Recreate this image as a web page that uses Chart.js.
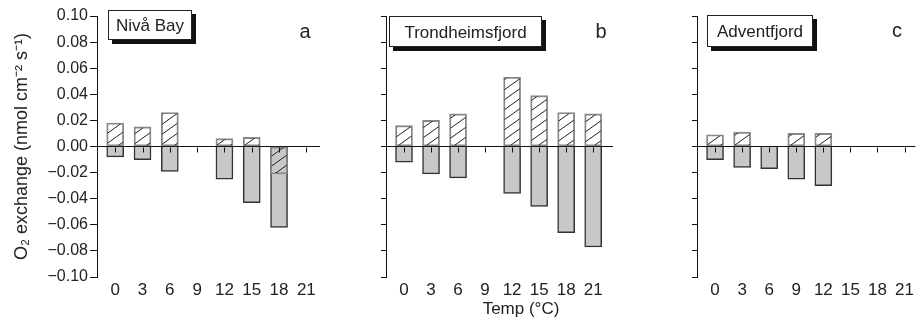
<!DOCTYPE html>
<html>
<head>
<meta charset="utf-8">
<script src="https://cdn.jsdelivr.net/npm/chart.js@4"></script>
<style>
  html, body { margin: 0; padding: 0; background: #fff; }
  #wrap { position: relative; width: 917px; height: 321px; overflow: hidden; }
  canvas { position: absolute; top: 0; }
</style>
</head>
<body>
<div id="wrap">
  <canvas id="chart-a" width="322" height="321" style="left:0px"></canvas>
  <canvas id="chart-b" width="294" height="321" style="left:322px"></canvas>
  <canvas id="chart-c" width="301" height="321" style="left:616px"></canvas>
</div>
<script>
// temperatures (°C) on the x axis
var temps = [0, 3, 6, 9, 12, 15, 18, 21];

// hatched bars = production, grey bars = respiration (nmol cm-2 s-1), null = not measured
var nivaProd  = [0.018, 0.015, 0.026, null, 0.006, 0.007, -0.021, null];
var nivaResp  = [-0.008, -0.010, -0.019, null, -0.025, -0.043, -0.062, null];
var trondProd = [0.016, 0.020, 0.025, null, 0.053, 0.039, 0.026, 0.025];
var trondResp = [-0.012, -0.021, -0.024, null, -0.036, -0.046, -0.066, -0.077];
var advProd   = [0.009, 0.011, null, 0.010, 0.010, null, null, null];
var advResp   = [-0.010, -0.016, -0.017, -0.025, -0.030, null, null, null];

var yTicks = [-0.10, -0.08, -0.06, -0.04, -0.02, 0.00, 0.02, 0.04, 0.06, 0.08, 0.10];

var FONT = '"Liberation Sans", Arial, Helvetica, sans-serif';

function toPoints(vals) {
    var pts = [];
    vals.forEach(function (v, i) {
        if (v !== null) pts.push({ x: temps[i], y: v });
    });
    return pts;
}

// diagonal hatch, transparent background
function makeHatch() {
    var c = document.createElement('canvas');
    c.width = 14; c.height = 10;
    var g = c.getContext('2d');
    g.strokeStyle = '#222';
    g.lineWidth = 1;
    g.beginPath();
    [-14, 0, 14].forEach(function (dx) {
        g.moveTo(dx - 1, 10 + 10 / 14);
        g.lineTo(dx + 15, -10 / 14);
    });
    g.stroke();
    return g.createPattern(c, 'repeat');
}
var hatch = makeHatch();

function fmtTick(v) {
    if (Math.abs(v) < 1e-9) return '0.00';
    return (v < 0 ? '\u2212' : '') + Math.abs(v).toFixed(2);
}

// zero line ticks, site label box, panel letter
var panelDecor = {
    id: 'panelDecor',
    afterDraw: function (chart, args, o) {
        var ctx = chart.ctx;
        var xs = chart.scales.x, ys = chart.scales.y;
        var y0 = Math.round(ys.getPixelForValue(0)) + 0.5;
        ctx.save();
        ctx.strokeStyle = '#111';
        ctx.lineWidth = 1;
        temps.forEach(function (t) {
            var px = Math.round(xs.getPixelForValue(t)) + 0.5;
            ctx.beginPath();
            ctx.moveTo(px, y0);
            ctx.lineTo(px, y0 + 5);
            ctx.stroke();
        });

        var b = o.box;
        ctx.fillStyle = '#111';
        ctx.fillRect(b[0] + 4, b[1] + 4, b[2], b[3]);
        ctx.fillStyle = '#fff';
        ctx.fillRect(b[0], b[1], b[2], b[3]);
        ctx.strokeStyle = '#222';
        ctx.strokeRect(b[0] + 0.5, b[1] + 0.5, b[2] - 1, b[3] - 1);
        ctx.fillStyle = '#222';
        ctx.font = '17px ' + FONT;
        ctx.textAlign = 'center';
        ctx.textBaseline = 'alphabetic';
        ctx.fillText(o.name, b[0] + b[2] / 2, b[1] + b[3] / 2 + 6);

        ctx.font = '20px ' + FONT;
        ctx.fillText(o.letter, o.letterAt[0], o.letterAt[1]);

        if (o.xTitle) {
            ctx.font = '17px ' + FONT;
            ctx.fillText(o.xTitle, o.xTitleAt[0], o.xTitleAt[1]);
        }
        ctx.restore();
    }
};

function makeChart(id, prod, resp, p) {
    var el = document.getElementById(id);
    return new Chart(el.getContext('2d'), {
        type: 'bar',
        data: {
            datasets: [{
                label: 'production',
                data: toPoints(prod),
                backgroundColor: hatch,
                borderColor: '#888',
                borderWidth: 1.2,
                borderSkipped: false,
                grouped: false,
                barThickness: 17
            }, {
                label: 'respiration',
                data: toPoints(resp),
                backgroundColor: '#c8c8c8',
                borderColor: '#333',
                borderWidth: 1.5,
                grouped: false,
                barThickness: 17
            }]
        },
        options: {
            responsive: false,
            animation: false,
            layout: { padding: { top: 16, right: p.padRight, left: 0, bottom: 0 } },
            plugins: {
                legend: { display: false },
                tooltip: { enabled: false },
                panelDecor: p.decor
            },
            scales: {
                x: {
                    type: 'linear',
                    offset: false,
                    min: -2,
                    max: p.xMax,
                    afterBuildTicks: function (s) {
                        s.ticks = temps.map(function (t) { return { value: t }; });
                    },
                    afterFit: function (s) { s.height = 44; },
                    grid: { display: false, drawTicks: false },
                    border: { display: false },
                    ticks: {
                        autoSkip: false,
                        maxRotation: 0,
                        padding: 3,
                        color: '#222',
                        font: { family: FONT, size: 17 }
                    }
                },
                y: {
                    min: -0.1,
                    max: 0.1,
                    z: 1,
                    afterBuildTicks: function (s) {
                        s.ticks = yTicks.map(function (v) { return { value: v }; });
                    },
                    afterFit: function (s) { s.width = p.yWidth; },
                    border: { display: true, color: '#111', width: 1 },
                    grid: {
                        drawOnChartArea: true,
                        color: function (c) {
                            return (c.tick && Math.abs(c.tick.value) < 1e-9) ? '#111' : 'rgba(0,0,0,0)';
                        },
                        tickColor: '#111',
                        tickLength: p.tickLen
                    },
                    ticks: {
                        display: p.showLabels,
                        padding: 2,
                        color: '#222',
                        font: { family: FONT, size: 16 },
                        callback: fmtTick
                    },
                    title: {
                        display: p.showLabels,
                        text: 'O\u2082 exchange (nmol cm\u207B\u00B2 s\u207B\u00B9)',
                        color: '#222',
                        font: { family: FONT, size: 18 },
                        padding: { top: 11, bottom: 0 }
                    }
                }
            }
        },
        plugins: [panelDecor]
    });
}

makeChart('chart-a', nivaProd, nivaResp, {
    padRight: 2, xMax: 22.5, yWidth: 97, tickLen: 7, showLabels: true,
    decor: { name: 'Nivå Bay', box: [108, 10, 84, 30], letter: 'a', letterAt: [305, 38] }
});
makeChart('chart-b', trondProd, trondResp, {
    padRight: 3, xMax: 23.2, yWidth: 64, tickLen: 5, showLabels: false,
    decor: { name: 'Trondheimsfjord', box: [67, 16, 153, 31], letter: 'b', letterAt: [279, 38],
             xTitle: 'Temp (°C)', xTitleAt: [199, 314] }
});
makeChart('chart-c', advProd, advResp, {
    padRight: 0, xMax: 22.2, yWidth: 81, tickLen: 5, showLabels: false,
    decor: { name: 'Adventfjord', box: [91, 15, 106, 32], letter: 'c', letterAt: [281, 37] }
});
</script>
</body>
</html>
